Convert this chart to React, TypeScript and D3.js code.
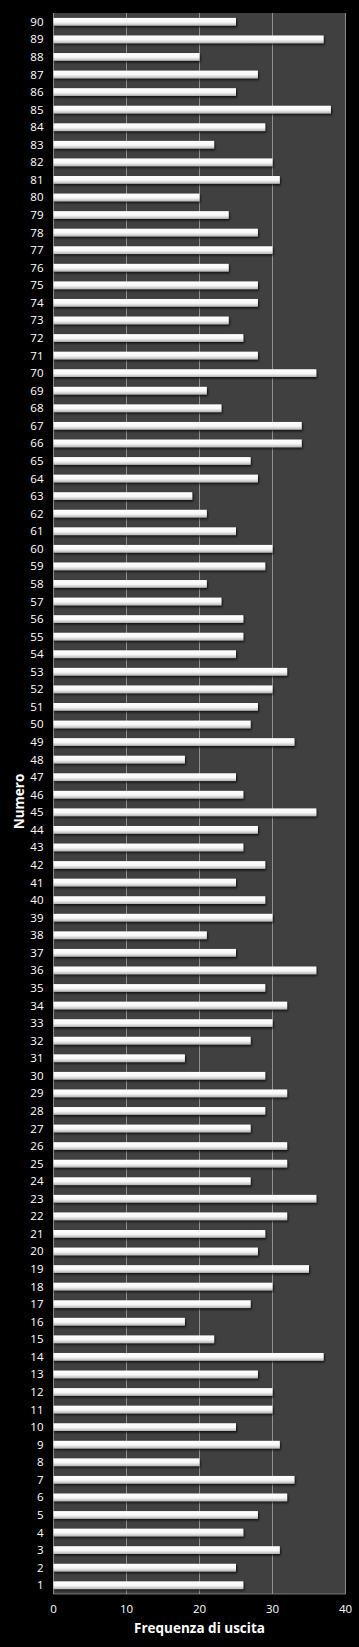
import React from "react";
import * as d3 from "d3";

const numbers: number[] = Array.from({ length: 90 }, (_, i) => i + 1);
const frequencies: number[] = [
  26, 25, 31, 26, 28, 32, 33, 20, 31, 25,
  30, 30, 28, 37, 22, 18, 27, 30, 35, 28,
  29, 32, 36, 27, 32, 32, 27, 29, 32, 29,
  18, 27, 30, 32, 29, 36, 25, 21, 30, 29,
  25, 29, 26, 28, 36, 26, 25, 18, 33, 27,
  28, 30, 32, 25, 26, 26, 23, 21, 29, 30,
  25, 21, 19, 28, 27, 34, 34, 23, 21, 36,
  28, 26, 24, 28, 28, 24, 30, 28, 24, 20,
  31, 30, 22, 29, 38, 25, 28, 20, 37, 25,
];
const xTicks: number[] = [0, 10, 20, 30, 40];
const xTitle = "Frequenza di uscita";
const yTitle = "Numero";

const W = 359;
const H = 1647;
const M = { left: 53.5, right: 13.5, top: 13, bottom: 53 };

export default function App() {
  const x = d3.scaleLinear().domain([0, 40]).range([M.left, W - M.right]);
  const y = d3
    .scaleBand<number>()
    .domain([...numbers].reverse())
    .range([M.top, H - M.bottom])
    .paddingInner(0.56)
    .paddingOuter(0.28);
  const font = "'Open Sans', 'Liberation Sans', sans-serif";
  const bw = y.bandwidth();
  return (
    <svg
      width={W}
      height={H}
      style={{ position: "absolute", left: 0, top: 0, display: "block", background: "#000" }}
    >
      <defs>
        <linearGradient id="barGrad" x1="0" y1="0" x2="0" y2="1">
          <stop offset="0" stopColor="#ffffff" />
          <stop offset="0.55" stopColor="#f7f7f7" />
          <stop offset="1" stopColor="#b5b5b5" />
        </linearGradient>
        <filter id="shadow" x="-5%" y="-50%" width="110%" height="220%">
          <feDropShadow dx="1" dy="1.5" stdDeviation="0.8" floodColor="#000" floodOpacity="0.8" />
        </filter>
      </defs>
      <rect x={0} y={0} width={W} height={H} fill="#000" />
      <rect
        x={M.left}
        y={M.top}
        width={W - M.left - M.right}
        height={H - M.top - M.bottom}
        fill="#404040"
      />
      {xTicks.map((t) => (
        <line
          key={"g" + t}
          x1={x(t)}
          x2={x(t)}
          y1={M.top}
          y2={H - M.bottom}
          stroke="#a6a6a6"
          strokeWidth={0.8}
        />
      ))}
      <line x1={M.left} x2={W - M.right} y1={H - M.bottom} y2={H - M.bottom} stroke="#8c8c8c" strokeWidth={0.8} />
      {numbers.map((n, i) => (
        <rect
          key={"b" + n}
          x={x(0)}
          y={y(n)!}
          width={x(frequencies[i]) - x(0)}
          height={bw}
          fill="url(#barGrad)"
          filter="url(#shadow)"
        />
      ))}
      {numbers.map((n) => (
        <text
          key={"l" + n}
          x={M.left - 10}
          y={y(n)! + bw / 2}
          dy="0.35em"
          textAnchor="end"
          fill="#ffffff"
          fontSize={11.5}
          fontFamily={font}
        >
          {n}
        </text>
      ))}
      {xTicks.map((t) => (
        <text
          key={"t" + t}
          x={x(t)}
          y={H - M.bottom + 15}
          dy="0.35em"
          textAnchor="middle"
          fill="#ffffff"
          fontSize={11.5}
          fontFamily={font}
        >
          {t}
        </text>
      ))}
      <text
        x={(M.left + W - M.right) / 2}
        y={H - 14}
        textAnchor="middle"
        fill="#ffffff"
        fontSize={13.5}
        fontWeight="bold"
        fontFamily={font}
      >
        {xTitle}
      </text>
      <text
        transform={`translate(24, ${(M.top + H - M.bottom) / 2 - 2}) rotate(-90)`}
        textAnchor="middle"
        fill="#ffffff"
        fontSize={13.5}
        fontWeight="bold"
        fontFamily={font}
      >
        {yTitle}
      </text>
    </svg>
  );
}
